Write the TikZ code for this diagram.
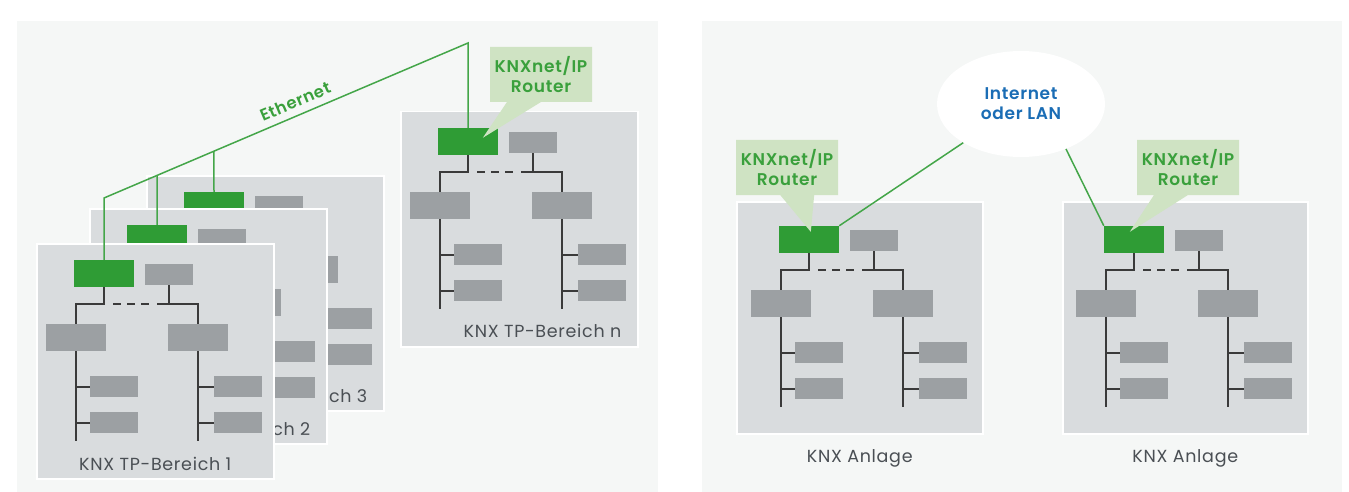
\documentclass[tikz,border=0pt]{standalone}
\usepackage{fontspec}
\setmainfont{Poppins}[LetterSpace=4, BoldFont={Poppins SemiBold}]
\usetikzlibrary{positioning, calc, shapes.geometric, shapes.callouts}

\definecolor{knxgreen}{HTML}{2F9C35}
\definecolor{bubblegreen}{HTML}{CFE3C3}
\definecolor{textgreen}{HTML}{3AA03C}
\definecolor{devgray}{HTML}{9CA0A3}
\definecolor{areagray}{HTML}{D9DCDE}
\definecolor{panelgray}{HTML}{F5F7F6}
\definecolor{busgray}{HTML}{3A3A3A}
\definecolor{lanblue}{HTML}{1B6DB5}
\definecolor{labelgray}{HTML}{4A4F54}

% one KNX line tree, #2/#3 = top left corner of the router
\newcommand{\knxtree}[3]{%
  \node[router] (#1-r) at (#2+30,#3+13.5) {};
  \node[dev] (#1-c) at (#2+95,#3+14.5) {};
  \node[lc] (#1-la) at (#2+2,#3+77.5) {};
  \node[lc] (#1-lb) at (#2+124,#3+77.5) {};
  \node[dev] (#1-d1) at (#2+40,#3+126.5) {};
  \node[dev] (#1-d2) at (#2+40,#3+162.5) {};
  \node[dev] (#1-d3) at (#2+164,#3+126.5) {};
  \node[dev] (#1-d4) at (#2+164,#3+162.5) {};
  \coordinate (#1-m) at (#2+30,#3+44);
  \coordinate (#1-n) at (#2+83,#3+44);
  \coordinate (#1-ea) at (#2+2,#3+181);
  \coordinate (#1-eb) at (#2+124,#3+181);
  \draw[bus] (#1-la.north) |- (#1-m) -- (#1-r.south);
  \draw[bus, dash pattern=on 8pt off 6pt] ($(#1-m)+(9,0)$) -- ($(#1-n)+(-8,0)$);
  \draw[bus] (#1-lb.north) |- (#1-n);
  \draw[bus] (#1-c.south) -- (#1-c.south |- #1-n);
  \draw[bus] (#1-la.south) -- (#1-ea);
  \draw[bus] (#1-lb.south) -- (#1-eb);
  \foreach \d in {d1,d2} \draw[bus] (#1-\d.west) -- (#1-\d.west -| #1-ea);
  \foreach \d in {d3,d4} \draw[bus] (#1-\d.west) -- (#1-\d.west -| #1-eb);
}

\begin{document}
\begin{tikzpicture}[x=1pt, y=-1pt,
    area/.style={draw=white, line width=1.5pt, fill=areagray, minimum width=237pt, minimum height=235pt, inner sep=0pt, anchor=north west},
    router/.style={fill=knxgreen, minimum width=60pt, minimum height=27pt, inner sep=0pt},
    lc/.style={fill=devgray, minimum width=60pt, minimum height=27pt, inner sep=0pt},
    dev/.style={fill=devgray, minimum width=48pt, minimum height=21pt, inner sep=0pt},
    bus/.style={draw=busgray, line width=2pt},
    eth/.style={draw=knxgreen!90!white, line width=1.5pt},
    arealabel/.style={text=labelgray, font=\fontsize{17.5}{20}\selectfont, inner sep=0pt},
    bubble/.style={rectangle callout, fill=bubblegreen, minimum width=102pt, minimum height=55pt, inner sep=0pt, align=center, text=textgreen, font=\bfseries\fontsize{17}{19.5}\selectfont, callout pointer width=34pt},
    netcloud/.style={ellipse, fill=white, minimum width=168pt, minimum height=106pt, inner sep=0pt, align=center, text=lanblue, font=\bfseries\fontsize{17}{20}\selectfont}]
  \useasboundingbox (0,0) rectangle (1349,492);
  \fill[panelgray] (17,21) rectangle (658,492);
  \fill[panelgray] (702,21) rectangle (1342,492);

  % TP areas, back to front
  \node[area] (b3) at (146,175) {};
  \node[arealabel, anchor=east] (b3-t) at ($(b3.south east)+(-17,-16)$) {KNX TP-Bereich 3};
  \knxtree{b3}{184}{192}
  \node[area] (b2) at (89,208) {};
  \node[arealabel, anchor=east] (b2-t) at ($(b2.south east)+(-17,-16)$) {KNX TP-Bereich 2};
  \knxtree{b2}{127}{225}
  \node[area] (b1) at (36,243) {};
  \node[arealabel] (b1-t) at ($(b1.south)+(0,-16)$) {KNX TP-Bereich 1};
  \knxtree{b1}{74}{260}
  \node[area] (bn) at (400,111) {};
  \node[arealabel, anchor=east] (bn-t) at ($(bn.south east)+(-17,-17)$) {KNX TP-Bereich n};
  \knxtree{bn}{438}{128}

  \coordinate (eth-top) at (bn-r.north |- 0,43);
  \coordinate (eth-corner) at (b1-r.north |- 0,198);
  \draw[eth] (b1-r.north) -- (eth-corner)
    -- node[pos=0.54, sloped, above=3.5pt, text=textgreen, font=\bfseries\fontsize{16.5}{18}\selectfont] {Ethernet} (eth-top)
    -- (bn-r.north);
  \draw[eth] (b2-r.north) -- ($(eth-corner)!0.146!(eth-top)$);
  \draw[eth] (b3-r.north) -- ($(eth-corner)!0.302!(eth-top)$);
  \node[bubble, callout absolute pointer={($(bn-r.north west)+(45,10)$)}] (bn-call) at (541,74.5) {KNXnet/IP\\Router};

  % two installations over IP
  \node[area, minimum width=246pt, minimum height=232pt] (al) at (736,201) {};
  \node[arealabel] (al-t) at ($(al.south)+(0,24)$) {KNX Anlage};
  \knxtree{al}{779}{226}
  \node[area, minimum width=245pt, minimum height=232pt] (ar) at (1062,201) {};
  \node[arealabel] (ar-t) at ($(ar.south)+(0,24)$) {KNX Anlage};
  \knxtree{ar}{1104}{226}

  \node[netcloud] (lan) at (1021,104) {Internet\\oder LAN};
  \draw[eth] (lan) -- (al-r.north east);
  \draw[eth] (lan.-45) -- (ar-r.north west);
  \node[bubble, callout absolute pointer={($(al-r.north west)+(32,6)$)}] (al-call) at (787,167.5) {KNXnet/IP\\Router};
  \node[bubble, callout absolute pointer={($(ar-r.north west)+(26,6)$)}] (ar-call) at (1188,167.5) {KNXnet/IP\\Router};
\end{tikzpicture}
\end{document}
